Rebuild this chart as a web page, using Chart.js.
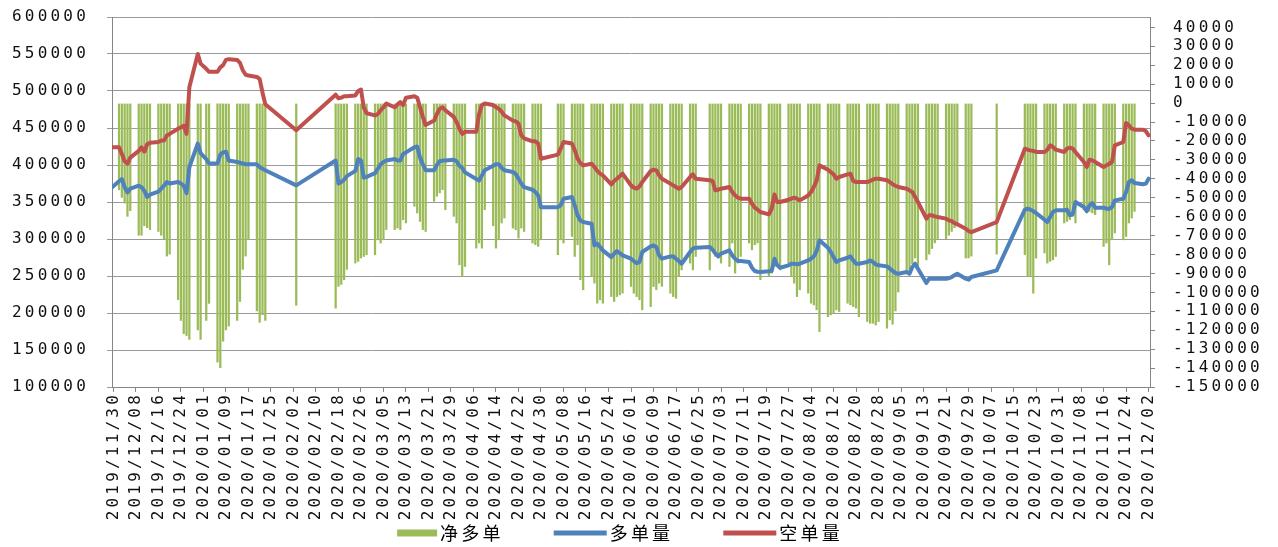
<!DOCTYPE html>
<html><head><meta charset="utf-8">
<script src="https://cdn.jsdelivr.net/npm/chart.js@4.4.0/dist/chart.umd.min.js"></script>
<style>html,body{margin:0;padding:0;background:#fff;}#wrap{width:1278px;height:547px;}</style>
</head><body><div id="wrap"><canvas id="c" width="1278" height="547"></canvas></div>
<script>
const seriesNames = ['净多单', '多单量', '空单量'];
const dates = [
'2019/11/29','2019/12/02','2019/12/03','2019/12/04','2019/12/05','2019/12/06',
'2019/12/09','2019/12/10','2019/12/11','2019/12/12','2019/12/13',
'2019/12/16','2019/12/17','2019/12/18','2019/12/19','2019/12/20',
'2019/12/23','2019/12/24','2019/12/25','2019/12/26','2019/12/27',
'2019/12/30','2019/12/31','2020/01/02','2020/01/03',
'2020/01/06','2020/01/07','2020/01/08','2020/01/09','2020/01/10',
'2020/01/13','2020/01/14','2020/01/15','2020/01/16','2020/01/17',
'2020/01/20','2020/01/21','2020/01/22','2020/01/23',
'2020/02/03',
'2020/02/17','2020/02/18','2020/02/19','2020/02/20','2020/02/21',
'2020/02/24','2020/02/25','2020/02/26','2020/02/27','2020/02/28',
'2020/03/02','2020/03/03','2020/03/04','2020/03/05','2020/03/06',
'2020/03/09','2020/03/10','2020/03/11','2020/03/12','2020/03/13',
'2020/03/16','2020/03/17','2020/03/18','2020/03/19','2020/03/20',
'2020/03/23','2020/03/24','2020/03/25','2020/03/26','2020/03/27',
'2020/03/30','2020/03/31','2020/04/01','2020/04/02','2020/04/03',
'2020/04/07','2020/04/08','2020/04/09','2020/04/10',
'2020/04/13','2020/04/14','2020/04/15','2020/04/16','2020/04/17',
'2020/04/20','2020/04/21','2020/04/22','2020/04/23','2020/04/24',
'2020/04/27','2020/04/28','2020/04/29','2020/04/30',
'2020/05/06','2020/05/07','2020/05/08',
'2020/05/11','2020/05/12','2020/05/13','2020/05/14','2020/05/15',
'2020/05/18','2020/05/19','2020/05/20','2020/05/21','2020/05/22',
'2020/05/25','2020/05/26','2020/05/27','2020/05/28','2020/05/29',
'2020/06/01','2020/06/02','2020/06/03','2020/06/04','2020/06/05',
'2020/06/08','2020/06/09','2020/06/10','2020/06/11','2020/06/12',
'2020/06/15','2020/06/16','2020/06/17','2020/06/18','2020/06/19',
'2020/06/22','2020/06/23','2020/06/24',
'2020/06/29','2020/06/30','2020/07/01','2020/07/02','2020/07/03',
'2020/07/06','2020/07/07','2020/07/08','2020/07/09','2020/07/10',
'2020/07/13','2020/07/14','2020/07/15','2020/07/16','2020/07/17',
'2020/07/20','2020/07/21','2020/07/22','2020/07/23','2020/07/24',
'2020/07/27','2020/07/28','2020/07/29','2020/07/30','2020/07/31',
'2020/08/03','2020/08/04','2020/08/05','2020/08/06','2020/08/07',
'2020/08/10','2020/08/11','2020/08/12','2020/08/13','2020/08/14',
'2020/08/17','2020/08/18','2020/08/19','2020/08/20','2020/08/21',
'2020/08/24','2020/08/25','2020/08/26','2020/08/27','2020/08/28',
'2020/08/31','2020/09/01','2020/09/02','2020/09/03','2020/09/04',
'2020/09/07','2020/09/08','2020/09/09','2020/09/10','2020/09/11',
'2020/09/14','2020/09/15','2020/09/16','2020/09/17','2020/09/18',
'2020/09/21','2020/09/22','2020/09/23','2020/09/24','2020/09/25',
'2020/09/28','2020/09/29','2020/09/30',
'2020/10/09',
'2020/10/19','2020/10/20','2020/10/21','2020/10/22','2020/10/23',
'2020/10/26','2020/10/27','2020/10/28','2020/10/29','2020/10/30',
'2020/11/02','2020/11/03','2020/11/04','2020/11/05','2020/11/06',
'2020/11/09','2020/11/10','2020/11/11','2020/11/12','2020/11/13',
'2020/11/16','2020/11/17','2020/11/18','2020/11/19','2020/11/20',
'2020/11/23','2020/11/24','2020/11/25','2020/11/26','2020/11/27',
'2020/11/30','2020/12/01','2020/12/02'
];
// 多单量 (left axis)
const longQty = [368000,
378000,381000,370000,363000,368000,
372000,370000,365000,357000,360000,
364000,368000,372000,377000,375000,
377000,375000,372000,362000,397000,
429000,416000,408000,402000,
402000,414000,417000,418000,406000,
404000,403000,402000,401000,401000,
401000,397000,395000,393000,
372500,
406000,375000,377000,380000,385000,
392000,408000,406000,383000,384000,
389000,395000,401000,404000,406000,
408000,406000,406000,415000,417000,
424000,425000,410000,401000,393000,
393000,400000,405000,406000,406000,
407000,405000,399000,396000,390000,
381000,379000,386000,393000,
399000,401000,401000,396000,393000,
390500,388000,381500,375000,370000,
366600,363500,359000,343000,
343000,345500,354500,
356700,345500,332000,325000,323000,
320700,291400,293700,289200,284600,
275600,280100,283700,281000,277900,
273400,270200,267500,268900,282400,
290100,291400,289200,277900,273400,
276500,276500,273400,270200,266600,
282400,286900,288300,
289200,285600,280200,276500,280200,
284600,277900,273400,270200,270200,
268900,261200,256700,255800,255400,
256300,256700,273400,264400,261200,
264400,266600,266600,265700,266600,
271100,273400,276500,283700,298200,
288300,282400,275600,268900,271100,
274700,276500,271100,266600,266600,
268900,271100,268900,265700,264400,
263000,260000,257000,254000,253100,
255400,253100,262100,266600,259900,
240500,246400,246400,246400,246400,
246400,247000,248600,250900,253100,
246400,245000,248600,
257600,
339600,340900,339600,337800,335100,
326100,322900,329700,336500,338700,
338700,339600,332000,333300,349900,
343200,337800,345500,348600,342300,
342300,340900,340900,343200,352200,
354500,363500,377000,379300,375700,
373900,374800,381500];
// 空单量 (left axis)
const shortQty = [424000,
424000,415000,405000,402000,410000,
419000,424000,418000,428000,430000,
431000,433000,433000,440000,442000,
449000,451000,453000,442000,505000,
550000,537000,530000,526000,
526000,532000,535000,542000,543000,
542000,538000,528000,522000,521000,
519000,516000,498000,482000,
447000,
495000,490000,491000,493000,493000,
494000,500000,502000,478000,470000,
467000,469000,474000,478000,483000,
478000,482000,485000,481000,491000,
493000,491000,478000,465000,454000,
460000,469000,476000,478000,474000,
465000,458000,449000,442000,445000,
445000,469000,481000,483000,
481000,478000,476000,472000,467000,
460000,459000,456000,440000,436000,
432000,432000,429000,408500,
414000,422000,431000,
429000,420000,408500,402700,399500,
401800,397300,392000,388300,386000,
373800,378400,381500,384700,388300,
372500,369400,368000,371100,377000,
391900,393700,392800,386000,381500,
374800,372500,370200,368000,370200,
383800,387400,381500,
379300,378400,365700,366600,368000,
370200,363500,359000,355800,354500,
354500,347700,342300,339600,336500,
333300,340900,360300,350000,350000,
353100,354500,355800,354500,352200,
358900,363500,370200,379200,399500,
393700,390500,387400,381500,383800,
387400,388300,378400,377000,377000,
377000,378400,380200,381500,381500,
379300,377000,374000,372000,370200,
368000,365700,363500,356700,350000,
327500,332000,332000,330600,329700,
327500,325200,324300,321600,319800,
313900,310800,309400,
322900,
422000,420700,419800,419000,417600,
417600,420700,426600,424300,420700,
417600,422100,423400,422100,417600,
404000,397300,407200,406300,404000,
397300,399500,401800,404000,426600,
431100,456900,453600,449100,447700,
447700,445900,440100];
// 净多单 (right axis)
const netLong = [null,
-46000,-50000,-53000,-60000,-57000,
-70000,-70000,-65000,-66000,-67000,
-68000,-70000,-72000,-81000,-80000,
-104000,-115000,-122000,-123000,-125000,
-120000,-125000,-115000,-106000,
-137000,-140000,-126000,-120000,-118000,
-115000,-105000,-88000,-81000,-72000,
-110000,-116000,-112000,-115000,
-107000,
-108500,-97000,-96000,-93500,-88000,
-84700,-83800,-82000,-81200,-80300,
-80300,-72400,-74100,-72400,-67000,
-67000,-66200,-67000,-61800,-63500,
-54700,-58200,-62700,-67000,-68000,
-52100,-49400,-47600,-45900,-56500,
-60000,-63500,-85600,-91800,-86500,
-76800,-74100,-76800,-56500,
-65000,-76800,-72400,-63500,-60900,
-66200,-67100,-71500,-66200,-68000,
-74100,-75000,-75900,-72400,
-80300,-72400,-74100,
-70600,-81200,-75000,-93500,-98800,
-91800,-95300,-105900,-104100,-105900,
-102400,-105000,-102400,-101500,-100600,
-97000,-100600,-102400,-104100,-109400,
-107700,-97100,-98800,-95300,-97000,
-100600,-102400,-103300,-91800,-88300,
-84700,-88300,-81200,
-88300,-77700,-81200,-82100,-84700,
-86500,-74100,-90000,-84700,-81200,
-74100,-77700,-75000,-74100,-93500,
-91800,-90000,-86500,-84700,-88300,
-84700,-91800,-95300,-102400,-98800,
-100600,-105900,-106800,-109400,-120900,
-113000,-112100,-111200,-109400,-110300,
-105900,-106800,-107700,-108500,-113000,
-115600,-116500,-116500,-117400,-115600,
-119100,-114700,-117000,-110000,-100000,
-90000,-88000,-85000,-82000,-86000,
-83000,-80000,-77000,-74000,-72000,
-72000,-70000,-68000,-66000,-65000,
-82000,-82000,-81000,
-80000,
-80300,-91800,-91800,-100600,-82100,
-79400,-84700,-83800,-83000,-81200,
-63500,-62700,-61800,-60000,-63500,
-56500,-58200,-57400,-58200,-59100,
-75900,-74100,-85600,-72400,-68800,
-72400,-70600,-63500,-60900,-57400,
null,null,null];
const leftTicks = [100000,150000,200000,250000,300000,350000,400000,450000,500000,550000,600000];
const rightTicks = [-150000,-140000,-130000,-120000,-110000,-100000,-90000,-80000,-70000,-60000,-50000,-40000,-30000,-20000,-10000,0,10000,20000,30000,40000];
const axisStart = '2019/11/30', labelEveryDays = 8;

if (longQty.length !== dates.length || shortQty.length !== dates.length || netLong.length !== dates.length) {
  throw new Error('length mismatch ' + dates.length + ' ' + longQty.length + ' ' + shortQty.length + ' ' + netLong.length);
}

function ymd(t){return t.getFullYear()+'/'+String(t.getMonth()+1).padStart(2,'0')+'/'+String(t.getDate()).padStart(2,'0');}
const axisDays = [];
const shownLabels = new Set();
(function(){
  const first = new Date(2019,10,29), last = new Date(2020,11,2);
  for (let t = new Date(first); t <= last; t.setDate(t.getDate()+1)) axisDays.push(ymd(t));
  for (let t = new Date(2019,10,30); t <= last; t.setDate(t.getDate()+labelEveryDays)) shownLabels.add(ymd(t));
})();

const pts = arr => dates.map((d,i)=>({x:d, y:arr[i]}));
const LS = '3.2px';
const spacingPlugin = {
  id:'spacing',
  beforeUpdate(c){c.ctx.letterSpacing = LS;},
  beforeLayout(c){c.ctx.letterSpacing = LS;},
  beforeDraw(c){c.ctx.letterSpacing = LS;}
};
const legendPlugin = {
  id:'bottomLegend',
  afterDraw(chart){
    const ctx = chart.ctx;
    const keyGap = 3, itemGap = 50, cy = 533;
    const centerX = 620;
    ctx.save();
    ctx.letterSpacing = LS;
    ctx.font = "18px 'Noto Sans CJK SC'";
    ctx.textBaseline = 'middle';
    ctx.textAlign = 'left';
    const items = chart.data.datasets.map(ds => ({text: ds.label, color: ds.borderColor,
      h: ds.type === 'bar' ? 7 : 5, kw: ds.type === 'bar' ? 40 : 53, w: ctx.measureText(ds.label).width}));
    const total = items.reduce((s,it)=>s + it.kw + keyGap + it.w, 0) + itemGap*(items.length-1);
    let x = centerX - total/2;
    items.forEach(it => {
      ctx.fillStyle = it.color;
      ctx.fillRect(x, cy - it.h/2, it.kw, it.h);
      x += it.kw + keyGap;
      ctx.fillStyle = '#000';
      ctx.fillText(it.text, x, cy);
      x += it.w + itemGap;
    });
    ctx.restore();
  }
};
const tickFont = {family:"'DejaVu Sans Mono'", size:16};
const txt = '#111';
const axisCol = '#868686';
const noVPad = s => { s.paddingTop = 0; s.paddingBottom = 0; };

new Chart(document.getElementById('c'), {
  type:'bar',
  plugins:[spacingPlugin, legendPlugin],
  data:{
    labels: axisDays,
    datasets:[
      {type:'bar', label:seriesNames[0], data:pts(netLong), yAxisID:'y2', backgroundColor:'#9BBB59', borderColor:'#9BBB59', borderWidth:0, barPercentage:0.8, categoryPercentage:1, order:3},
      {type:'line', label:seriesNames[1], data:pts(longQty), yAxisID:'y', borderColor:'#4F81BD', backgroundColor:'#4F81BD', borderWidth:4, pointRadius:0, tension:0, borderJoinStyle:'round', borderCapStyle:'round', order:2},
      {type:'line', label:seriesNames[2], data:pts(shortQty), yAxisID:'y', borderColor:'#C0504D', backgroundColor:'#C0504D', borderWidth:4, pointRadius:0, tension:0, borderJoinStyle:'round', borderCapStyle:'round', order:1}
    ]
  },
  options:{
    responsive:false, animation:false, devicePixelRatio:1,
    layout:{padding:{top:17, left:0, right:0, bottom:20}},
    plugins:{ tooltip:{enabled:false}, legend:{display:false} },
    scales:{
      x:{
        type:'category', min:axisStart, offset:true,
        afterFit:s=>{s.height=140;},
        border:{color:axisCol, width:1},
        grid:{drawOnChartArea:false, offset:false, tickLength:5, lineWidth:1,
          color:c=>(c.tick && shownLabels.has(axisDays[c.tick.value])) ? axisCol : 'rgba(0,0,0,0)'},
        ticks:{autoSkip:false, minRotation:90, maxRotation:90, padding:0, font:tickFont, color:txt,
          callback:function(v){const l=this.getLabelForValue(v); return shownLabels.has(l)?l:'';}}
      },
      y:{
        position:'left', min:100000, max:600000,
        afterBuildTicks:s=>{s.ticks=leftTicks.map(v=>({value:v}));},
        afterFit:s=>{s.width=112; noVPad(s);},
        border:{color:axisCol, width:1},
        grid:{color:'#9a9a9a', lineWidth:1, tickLength:5},
        ticks:{autoSkip:false, padding:18, font:tickFont, color:txt, callback:v=>String(v)}
      },
      y2:{
        position:'right', min:-150000, max:45500,
        afterBuildTicks:s=>{s.ticks=rightTicks.map(v=>({value:v}));},
        afterFit:s=>{s.width=128; noVPad(s);},
        border:{color:axisCol, width:1},
        grid:{drawOnChartArea:false, color:axisCol, tickLength:5},
        ticks:{autoSkip:false, padding:18, font:tickFont, color:txt, callback:v=>String(v)}
      }
    }
  }
});
</script></body></html>
